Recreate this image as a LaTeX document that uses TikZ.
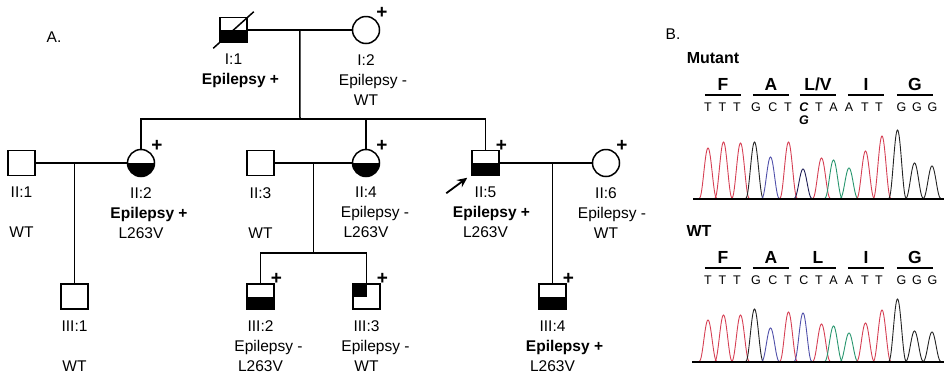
\documentclass[tikz,border=0pt]{standalone}
\usepackage{fontspec}
\setmainfont{Liberation Sans}
\usepackage{tikz}
\usetikzlibrary{arrows.meta,positioning,calc}
\definecolor{traceT}{RGB}{214,64,84}
\definecolor{traceG}{RGB}{35,35,35}
\definecolor{traceC}{RGB}{80,80,170}
\definecolor{traceA}{RGB}{40,150,110}
\definecolor{traceCG}{RGB}{30,30,85}

\begin{document}
\begin{tikzpicture}[x=1pt,y=-1pt,line width=1.5pt,
  font=\fontsize{15.5}{20}\selectfont,
  male/.style={rectangle,draw,minimum width=27pt,minimum height=25pt,inner sep=0pt,fill=white},
  female/.style={circle,draw,minimum size=27pt,inner sep=0pt,fill=white},
  affected/.style={path picture={\fill[black] (path picture bounding box.west) rectangle (path picture bounding box.south east);}},
  partial/.style={path picture={\fill[black] (path picture bounding box.north west) rectangle (path picture bounding box.center);}},
  lab/.style={anchor=north,align=center,inner sep=0pt,yshift=-23.5pt},
  plusmark/.style={font=\fontsize{19}{19}\selectfont\bfseries,inner sep=0pt},
  proband/.style={-{Stealth[length=10pt,width=9pt]},line width=1.8pt},
  aa/.style={font=\fontsize{17.5}{17.5}\selectfont\bfseries,anchor=base,minimum width=35pt,
             inner xsep=0pt,inner ysep=4pt,text depth=0pt,
             append after command={(\tikzlastnode.south west) edge (\tikzlastnode.south east)}},
  nuc/.style={font=\fontsize{12.5}{12.5}\selectfont,anchor=base,inner sep=0pt},
  trace/.style={line width=0.9pt}]

  \useasboundingbox (0,0) rectangle (944,376);

  % Panneau A
  \node (lblA) at (54,37) {A.};

  % Génération I
  \node[male,affected] (i1) at (233.5,30) {};
  \node[female] (i2) at (366,30) {};
  \draw ([shift={(-6,5)}]i1.south west) -- ([shift={(6,-5)}]i1.north east);
  \draw (i1) -- (i2);
  \coordinate (c1) at ($(i1)!0.5!(i2)$);
  \coordinate (sib2) at (300,119);
  \draw (c1) -- (sib2);

  % Génération II
  \node[male] (ii1) at (21.5,163) {};
  \node[female,affected] (ii2) at (141,163) {};
  \node[male] (ii3) at (260.5,163) {};
  \node[female,affected] (ii4) at (366,163) {};
  \node[male,affected] (ii5) at (485.5,163) {};
  \node[female] (ii6) at (606,163) {};
  \draw (ii2) |- (sib2) -| (ii5);
  \draw (ii4) -- (ii4 |- sib2);
  \draw (ii1) -- (ii2);
  \draw (ii3) -- (ii4);
  \draw (ii5) -- (ii6);
  \coordinate (pb) at ([shift={(-25,17)}]ii5.south west);
  \draw[proband] (pb) -- ([shift={(-4,1.5)}]ii5.south west);

  % Génération III
  \node[male] (iii1) at (74.5,296.5) {};
  \node[male,affected] (iii2) at (260.5,296.5) {};
  \node[male,partial] (iii3) at (366.5,296.5) {};
  \node[male,affected] (iii4) at (552.5,296.5) {};
  \draw (iii1) -- (iii1 |- ii1);
  \coordinate (c3) at ($(ii3)!0.5!(ii4)$);
  \coordinate (sib3) at ([yshift=-90pt]c3);
  \draw (c3) -- (sib3);
  \draw (iii2) |- (sib3) -| (iii3);
  \draw (iii4) -- (iii4 |- ii5);

  % Porteurs testés
  \foreach \p in {i2,ii2,ii4,ii5,ii6,iii2,iii3,iii4}
    \node[plusmark] (plus-\p) at ([shift={(16,-17.5)}]\p) {+};

  % Légendes
  \node[lab] (i1lab) at (i1) {I:1\\\hspace*{14pt}\textbf{Epilepsy +}};
  \node[lab] (i2lab) at (i2) {I:2\\\hspace*{14pt}Epilepsy -\\WT};
  \node[lab] (ii1lab) at (ii1) {II:1\\[20pt]WT};
  \node[lab] (ii2lab) at (ii2) {II:2\\\hspace*{16pt}\textbf{Epilepsy +}\\L263V};
  \node[lab] (ii3lab) at (ii3) {II:3\\[20pt]WT};
  \node[lab] (ii4lab) at (ii4) {II:4\\\hspace*{18pt}Epilepsy -\\L263V};
  \node[lab] (ii5lab) at (ii5) {II:5\\\hspace*{12pt}\textbf{Epilepsy +}\\L263V};
  \node[lab] (ii6lab) at (ii6) {II:6\\\hspace*{12pt}Epilepsy -\\WT};
  \node[lab] (iii1lab) at (iii1) {III:1\\[20pt]WT};
  \node[lab] (iii2lab) at (iii2) {III:2\\\hspace*{16pt}Epilepsy -\\L263V};
  \node[lab] (iii3lab) at (iii3) {III:3\\\hspace*{18pt}Epilepsy -\\WT};
  \node[lab] (iii4lab) at (iii4) {III:4\\\hspace*{24pt}\textbf{Epilepsy +}\\L263V};

  % Panneau B
  \node (lblB) at (673,34) {B.};
  \node[font=\fontsize{16}{16}\selectfont\bfseries] (mut) at (713,58) {Mutant};
  \node[font=\fontsize{16}{16}\selectfont\bfseries] (wt) at (699,231) {WT};

  % Acides aminés
  \foreach \ax/\a [count=\k] in {723/F,771/A,818/{L/V},866/I,915/G}
    \node[aa] (maa\k) at (\ax,90) {\a};
  \foreach \ax/\a [count=\k] in {723/F,771/A,818/L,866/I,915/G}
    \node[aa] (waa\k) at (\ax,263) {\a};

  % Séquences
  \foreach \bx/\b [count=\k] in {708/T,722.5/T,737/T,756/G,773/C,788/T,804/{\textbf{\textit{C}}},
      819/T,833.5/A,849/A,865/T,879/T,901.5/G,917/G,932.5/G}
    \node[nuc] (mb\k) at (\bx,111.5) {\b};
  \node[nuc,font=\fontsize{12.5}{12.5}\selectfont\bfseries\itshape] (mbalt) at (804,124) {G};
  \foreach \bx/\b [count=\k] in {708/T,722.5/T,737/T,756/G,773/C,788/T,804/C,
      819/T,833.5/A,849/A,865/T,879/T,901.5/G,917/G,932.5/G}
    \node[nuc] (wb\k) at (\bx,284.5) {\b};

  % Chromatogrammes
  \foreach \px/\py/\col in {708/148/traceT,723.5/142/traceT,740.5/143/traceT,754.5/142/traceG,
      770.5/157/traceC,788.5/142/traceT,803/169/traceCG,821.5/158/traceT,833.5/160/traceA,
      849/168/traceA,865.5/151/traceT,882/136/traceT,897.5/130/traceG,914.5/163/traceG,932/166/traceG}
    \draw[trace,\col] plot[domain=-8.5:8.5,samples=31,variable=\dx]
      ({\px+\dx},{198-(198-\py)*(1+cos(\dx*180/8.5))/2});
  \foreach \px/\py/\col in {708/320/traceT,723.5/315/traceT,740.5/315/traceT,754.5/309/traceG,
      770.5/328/traceC,788.5/312/traceT,803/313/traceC,821.5/324/traceT,833.5/326/traceA,
      849/333/traceA,865.5/323/traceT,882/310/traceT,897.5/299/traceG,914.5/331/traceG,932/332/traceG}
    \draw[trace,\col] plot[domain=-8.5:8.5,samples=31,variable=\dx]
      ({\px+\dx},{361-(361-\py)*(1+cos(\dx*180/8.5))/2});
  \draw[line width=2.5pt] (693,199) -- (944,199);
  \draw[line width=2.5pt] (692,362) -- (944,362);
\end{tikzpicture}
\end{document}
